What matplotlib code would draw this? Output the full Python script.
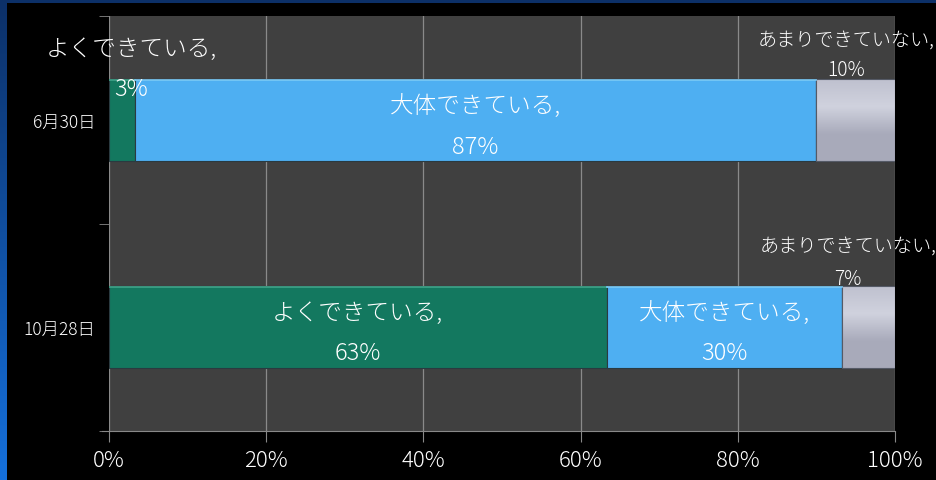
import matplotlib
matplotlib.use("Agg")
import matplotlib.pyplot as plt
import numpy as np
from matplotlib.colors import LinearSegmentedColormap

plt.rcParams['font.family'] = ['Noto Sans CJK JP', 'DejaVu Sans']
plt.rcParams['font.weight'] = 'light'

categories = ["6月30日", "10月28日"]
series_names = ["よくできている", "大体できている", "あまりできていない"]
good = [3.3, 63.3]
mostly = [86.7, 30.0]
notmuch = [10.0, 6.7]
xtick_labels = ["0%", "20%", "40%", "60%", "80%", "100%"]

colors = ["#13785F", "#4EAFF2", "#A8AABA"]

fig = plt.figure(figsize=(9.36, 4.81), dpi=100)
fig.patch.set_facecolor("black")

# blue frame (left and top)
bg = fig.add_axes([0, 0, 1, 1], zorder=-10)
bg.set_axis_off()
bg.set_xlim(0, 936); bg.set_ylim(481, 0)
grad = np.linspace(0, 1, 200).reshape(-1, 1)
cm = LinearSegmentedColormap.from_list("b", ["#0C3068", "#1570DC"])
bg.imshow(grad, extent=(0, 7, 481, 0), aspect="auto", cmap=cm, origin="upper")
bg.add_patch(plt.Rectangle((0, 0), 936, 3.5, color="#0C3068", lw=0))

ax = fig.add_axes([109/936, 1-432/481, (895-109)/936, (432-17)/481])
ax.set_facecolor("#404040")
y = np.arange(len(categories))
h = 0.395
series = [good, mostly, notmuch]
left = np.zeros(len(categories))
all_bars = []
for vals, col in zip(series, colors):
    b = ax.barh(y, vals, left=left, height=h, color=col, edgecolor="#2a3a40",
                linewidth=0.8, zorder=3)
    all_bars.append(b)
    left = left + np.array(vals)

# glossy gradient on gray bars
gcm = LinearSegmentedColormap.from_list("g", ["#BFC1CF", "#D0D2DE", "#A9ABBB", "#A8AABA"])
for p in all_bars[2]:
    x0, y0 = p.get_x(), p.get_y()
    w, hh = p.get_width(), p.get_height()
    ax.imshow(np.linspace(0, 1, 100).reshape(-1, 1), extent=(x0, x0 + w, y0 + hh, y0),
              aspect="auto", cmap=gcm, zorder=3.5, origin="upper")
    ax.add_patch(plt.Rectangle((x0, y0), w, hh, fill=False, edgecolor="#555a66",
                               lw=0.8, zorder=3.6))
# light top edge on bars
for bars, ec in zip(all_bars[:2], ["#3FA58A", "#7CCBF7"]):
    for p in bars:
        ax.plot([p.get_x(), p.get_x() + p.get_width()], [p.get_y() + 0.005] * 2,
                color=ec, lw=1.2, zorder=3.7)

ax.set_xlim(0, 100)
ax.set_ylim(1.5, -0.5)
ax.set_xticks(np.arange(0, 101, 20))
ax.set_xticklabels(xtick_labels, color="white", fontsize=16)
ax.set_yticks(y)
ax.set_yticklabels(categories, color="white", fontsize=12.5)
ax.tick_params(axis="y", length=0, pad=10)
ax.set_yticks([-0.5, 0.5, 1.5], minor=True)
ax.tick_params(axis="y", which="minor", length=7, color="#888888")
ax.tick_params(axis="x", length=8, color="#888888", pad=5)
ax.grid(axis="x", color="#8a8a8a", lw=0.9, zorder=1)
for s in ["top", "right", "left"]:
    ax.spines[s].set_visible(False)
ax.spines["bottom"].set_color("#888888")
ax.spines["bottom"].set_bounds(-0.9, 100)

# data labels
def lab(x, yy, name, val, dx, dy, fs, ls):
    ax.annotate(f"{name},\n{round(val)}%", (x, yy), xytext=(dx, dy), textcoords="offset points",
                ha="center", va="center", color="white", fontsize=fs, zorder=5,
                linespacing=ls, annotation_clip=False)

# 6/30
lab(good[0] / 2, y[0], series_names[0], good[0], 6.5, 37, 17, 1.82)
lab(good[0] + mostly[0] / 2, y[0], series_names[1], mostly[0], 0, -4.3, 17, 1.82)
lab(good[0] + mostly[0] + notmuch[0] / 2, y[0], series_names[2], notmuch[0], -7, 47, 13.8, 1.62)
# 10/28
lab(good[1] / 2, y[1], series_names[0], good[1], 0, -3.6, 17, 1.82)
lab(good[1] + mostly[1] / 2, y[1], series_names[1], mostly[1], 0, -3.6, 17, 1.82)
lab(good[1] + mostly[1] + notmuch[1] / 2, y[1], series_names[2], notmuch[1], -15, 47, 13.8, 1.75)

fig.savefig("out.png", dpi=100, facecolor=fig.get_facecolor())
